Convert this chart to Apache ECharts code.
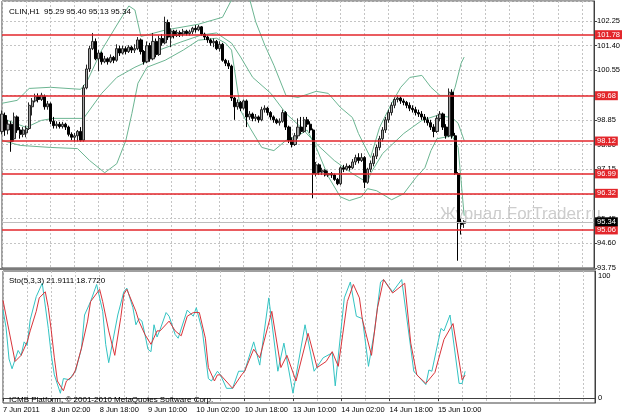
<!DOCTYPE html>
<html><head><meta charset="utf-8">
<script src="https://cdn.jsdelivr.net/npm/echarts@6/dist/echarts.min.js"></script>
<style>html,body{margin:0;padding:0;background:#fff}#c{width:623px;height:416px}</style>
</head><body><div id="c"></div>
<script>
const symbolTitle = 'CLIN,H1  95.29 95.40 95.13 95.34';
const stochTitle = 'Sto(5,3,3) 21.9111 18.7720';
const footer = 'ICMB Platform, \u00a9 2001-2010 MetaQuotes Software Corp.';
const watermark = 'Журнал ForTrader.ru';
const timeLabels = ['7 Jun 2011','8 Jun 02:00','8 Jun 18:00','9 Jun 10:00','10 Jun 02:00','10 Jun 18:00','13 Jun 10:00','14 Jun 02:00','14 Jun 18:00','15 Jun 10:00'];
const barCount = 197;
const levels = [101.78, 99.68, 98.12, 96.99, 96.32, 95.06];
const bid = 95.34;
// [open, close, low, high]
const candles = [
[98.45,99.05,98.35,99.17],[99.0,98.5,98.3,99.1],[98.5,98.7,98.35,98.85],[98.7,98.1,97.75,98.8],[98.2,98.95,98.1,99.1],
[98.95,98.5,98.4,99.0],[98.5,98.35,98.2,98.6],[98.35,98.5,98.25,98.6],[98.4,98.55,98.25,98.65],[98.55,99.35,98.5,99.45],
[99.3,99.5,99.0,99.6],[99.5,99.65,99.45,99.75],[99.65,99.55,99.45,99.76],[99.55,99.7,99.5,99.78],[99.65,99.3,99.2,99.72],
[99.3,99.4,99.2,99.5],[99.4,98.8,98.7,99.45],[98.8,98.65,98.55,98.95],[98.65,98.7,98.55,98.8],[98.7,98.62,98.55,98.78],
[98.62,98.7,98.55,98.78],[98.7,98.6,98.5,98.75],[98.6,98.35,98.28,98.65],[98.35,98.25,98.15,98.42],[98.25,98.3,98.1,98.4],
[98.3,98.45,98.1,98.5],[98.45,98.15,98.1,98.6],[98.15,99.95,98.1,100.05],[99.95,100.6,99.9,100.75],[100.6,101.3,100.5,101.4],
[101.3,101.55,101.25,101.84],[101.55,100.95,100.9,101.65],[100.95,101.15,100.52,101.25],[101.15,100.85,100.75,101.2],[100.85,100.95,100.8,101.05],
[100.95,100.85,100.75,101.0],[100.85,101.0,100.8,101.1],[101.0,100.9,100.8,101.05],[100.9,101.3,100.85,101.45],[101.3,101.15,101.05,101.4],
[101.15,101.3,101.1,101.4],[101.3,101.2,101.1,101.38],[101.2,101.35,101.15,101.42],[101.35,101.25,101.15,101.4],[101.25,101.3,101.15,101.45],
[101.3,101.6,101.25,101.7],[101.6,101.2,101.1,101.65],[101.2,100.85,100.75,101.25],[100.85,101.4,100.8,101.55],[101.4,100.95,100.85,101.5],
[100.95,101.55,100.9,101.84],[101.55,101.1,101.0,101.65],[101.1,101.65,101.05,101.75],[101.65,101.5,101.4,101.8],[101.5,102.2,101.45,102.4],
[102.2,101.7,101.6,102.3],[101.7,101.9,101.35,102.0],[101.9,101.75,101.65,101.95],[101.75,101.85,101.7,101.95],[101.85,101.8,101.7,101.92],
[101.8,101.9,101.72,101.98],[101.9,101.82,101.75,101.95],[101.82,101.88,101.75,101.95],[101.88,102.0,101.8,102.05],[102.0,101.95,101.85,102.11],
[101.95,102.05,101.9,102.12],[102.05,101.8,101.75,102.08],[101.8,101.7,101.6,101.85],[101.7,101.6,101.5,101.75],[101.6,101.5,101.4,101.65],
[101.5,101.55,101.35,101.65],[101.55,101.3,101.25,101.6],[101.3,101.45,101.2,101.55],[101.45,100.9,100.85,101.5],[100.9,100.8,100.7,100.95],
[100.8,100.7,100.6,100.9],[100.7,99.6,99.5,100.75],[99.6,99.3,98.85,99.65],[99.3,99.45,99.2,99.55],[99.45,99.25,99.15,99.5],
[99.25,99.5,99.2,99.55],[99.5,98.95,98.6,99.55],[98.95,99.05,98.85,99.15],[99.05,98.9,98.8,99.1],[98.9,98.95,98.8,99.05],
[98.95,98.85,98.75,99.0],[98.85,99.2,98.8,99.3],[99.2,99.25,99.1,99.35],[99.25,99.1,99.0,99.3],[99.1,98.95,98.85,99.15],
[98.95,98.85,98.75,99.0],[98.85,98.75,98.7,98.9],[98.75,98.8,98.65,98.9],[98.8,99.1,98.75,99.2],[99.1,98.6,98.5,99.15],
[98.6,98.15,98.05,98.65],[98.15,98.0,97.9,98.25],[98.0,98.3,97.95,98.4],[98.3,98.6,98.2,98.9],[98.6,98.45,98.35,98.95],
[98.45,98.85,98.4,98.95],[98.85,98.7,98.6,98.95],[98.7,98.5,98.4,98.8],[98.5,97.0,96.15,98.55],[97.0,97.3,96.9,97.4],
[97.3,97.05,96.95,97.35],[97.05,97.1,96.95,97.2],[97.1,96.95,96.9,97.15],[96.95,97.0,96.88,97.1],[97.0,96.95,96.85,97.05],
[96.95,96.8,96.75,97.0],[96.8,96.65,96.6,96.85],[96.65,97.2,96.6,97.25],[97.2,97.15,97.05,97.3],[97.15,97.25,97.1,97.35],
[97.25,97.2,97.1,97.3],[97.2,97.4,97.15,97.5],[97.4,97.55,97.3,97.65],[97.55,97.45,97.35,97.7],[97.45,97.55,97.4,97.7],
[97.55,96.7,96.5,97.6],[96.7,97.15,96.65,97.2],[97.15,97.35,97.05,97.45],[97.35,97.6,97.25,97.7],[97.6,97.9,97.5,98.0],
[97.9,98.2,97.8,98.3],[98.2,98.5,98.1,98.6],[98.5,98.85,98.4,98.95],[98.85,99.1,98.75,99.2],[99.1,99.35,99.0,99.45],
[99.35,99.55,99.25,99.62],[99.55,99.6,99.45,99.69],[99.6,99.5,99.4,99.65],[99.5,99.45,99.35,99.58],[99.45,99.35,99.25,99.5],
[99.35,99.25,99.15,99.45],[99.25,99.2,99.1,99.35],[99.2,99.1,99.0,99.3],[99.1,99.05,98.95,99.2],[99.05,98.95,98.85,99.15],
[98.95,98.85,98.75,99.05],[98.85,98.75,98.65,98.95],[98.75,98.6,98.5,98.85],[98.6,98.45,98.25,98.7],[98.45,98.9,98.4,99.0],
[98.9,99.05,98.8,99.15],[99.05,98.6,98.5,99.1],[98.6,98.3,98.2,98.7],[98.3,99.8,98.25,99.93],[99.8,98.3,98.2,99.9],
[98.3,97.0,96.95,98.4],[97.0,95.3,94.0,97.05],[95.3,95.25,94.9,95.45],[95.29,95.34,95.13,95.40]
];
// Bollinger lines: [bar, price]
const bbUpper = [[0,99.42],[5,99.52],[9,99.93],[16,99.97],[26,99.90],[28,100.14],[33,101.25],[39,102.28],[42,102.77],[44,102.63],[46,101.72],[48,101.77],[54,101.94],[65,102.14],[73,102.38],[76,102.98],[80,103.3],[82,103.0],[84,102.22],[87,101.42],[90,100.73],[94,99.69],[98,99.62],[104,99.83],[108,99.76],[112,99.28],[116,98.93],[118,98.38],[122,97.55],[125,98.59],[129,99.42],[132,99.97],[135,100.31],[139,100.38],[142,99.97],[145,99.69],[149,99.69],[150,99.97],[152,100.80],[153,101.01]];
const bbMiddle = [[0,98.90],[8,98.59],[13,98.83],[17,98.90],[27,98.90],[33,99.76],[38,100.31],[44,100.66],[47,100.80],[52,101.25],[59,101.52],[66,101.77],[71,101.84],[76,101.49],[79,101.01],[83,100.31],[89,99.76],[94,99.07],[99,98.59],[104,98.03],[110,97.45],[116,97.0],[121,96.69],[122,97.0],[126,97.69],[133,98.38],[139,98.83],[144,99.0],[149,98.93],[151,98.73],[153,98.14]];
const bbLower = [[0,98.14],[6,97.97],[16,97.90],[25,97.86],[29,97.45],[34,97.03],[38,97.34],[41,98.14],[43,99.07],[45,100.11],[48,100.66],[54,100.90],[60,101.25],[65,101.59],[71,101.66],[74,101.49],[76,101.25],[79,99.17],[82,98.59],[86,97.90],[90,97.79],[94,98.14],[98,98.3],[101,98.5],[104,97.9],[108,96.9],[112,96.2],[115,96.07],[119,96.2],[121,96.48],[124,96.41],[129,96.10],[133,96.31],[137,96.86],[140,97.20],[142,97.79],[144,98.2],[149,98.3],[151,97.9],[153,95.55]];
// Stochastic %K and %D: [bar, value]
const stochK = [[0,72],[1,58],[2,32],[3,24],[5,39],[6,35],[7,46],[8,43],[9,64],[11,83],[13,94],[15,57],[16,35],[17,19],[19,4],[20,16],[22,15],[23,19],[24,22],[26,41],[27,68],[29,79],[31,93],[33,71],[34,44],[35,29],[38,68],[40,87],[41,90],[43,74],[44,60],[45,65],[46,63],[47,52],[48,40],[49,38],[50,60],[51,50],[52,56],[54,70],[55,67],[57,52],[58,49],[61,72],[63,67],[64,74],[66,55],[68,16],[69,14],[71,22],[72,19],[74,8],[76,8],[78,22],[80,22],[83,46],[85,27],[88,82],[91,22],[93,45],[96,4],[100,60],[103,22],[106,33],[109,37],[110,10],[113,82],[115,95],[117,67],[119,65],[121,26],[123,55],[125,95],[126,97],[129,87],[132,97],[135,41],[136,22],[140,11],[141,23],[142,22],[145,57],[146,55],[148,68],[151,12],[152,12],[153,21.91]];
const stochD = [[0,80],[4,30],[6,35],[8,46],[9,55],[11,71],[12,82],[14,87],[15,74],[16,55],[17,33],[18,14],[20,6],[21,14],[23,18],[24,23],[26,41],[28,63],[29,79],[32,89],[33,79],[35,55],[37,35],[39,66],[40,85],[41,89],[44,71],[45,63],[47,52],[49,44],[51,55],[52,55],[55,63],[57,55],[59,51],[61,67],[63,70],[65,70],[67,49],[68,25],[70,14],[71,19],[72,19],[76,8],[79,19],[80,22],[83,40],[85,33],[89,71],[92,25],[94,35],[97,14],[101,53],[104,25],[107,30],[109,38],[111,26],[114,79],[116,93],[118,82],[119,64],[122,35],[124,74],[126,97],[129,86],[133,94],[135,45],[137,19],[140,12],[143,21],[146,48],[149,61],[152,15],[153,18.77]];

const FONT = 'Liberation Sans';
const FS = 7.5;
const TFS = 8;
const cats = Array.from({length: barCount}, (_, i) => String(i));
const LABEL_STEP = 16, GRID_STEP = 8;
const lastLabeled = (timeLabels.length - 1) * LABEL_STEP;
const isLabelIdx = (i) => i % LABEL_STEP === 0 && i <= lastLabeled;
const gridLine = {show: true, interval: (i) => i % GRID_STEP === 0, lineStyle: {color: '#c4c4c4', type: [2, 2], width: 1}};
const axisCol = '#404040';
const RED = '#e3262b';
const BAND = '#6cb592';

const chart = echarts.init(document.getElementById('c'), null, {renderer: 'canvas'});
const lineSeries = (data, color, xi, yi, name, z) => ({
  name, type: 'line', xAxisIndex: xi, yAxisIndex: yi, data, showSymbol: false, symbol: 'none',
  lineStyle: {color, width: 1}, itemStyle: {color}, silent: true, z: z || 3
});
const priceLabel = (bg) => ({show: true, position: 'end', distance: 1, formatter: p => Number(p.value).toFixed(2),
  color: '#fff', backgroundColor: bg, padding: [1, 2, 0, 2], fontSize: FS, fontFamily: FONT});

const levelSeries = {
  name: 'levels', type: 'line', xAxisIndex: 0, yAxisIndex: 0, data: [], showSymbol: false, silent: true, z: 5,
  lineStyle: {color: RED, width: 1.6},
  markLine: {silent: true, symbol: ['none', 'none'], animation: false, precision: 2,
    data: levels.map(v => ({yAxis: v, lineStyle: {color: RED, width: 1.6, type: 'solid', opacity: 1}, label: priceLabel(RED)}))
      .concat([{yAxis: bid, lineStyle: {color: '#bdbdbd', width: 1, type: 'solid', opacity: 1}, label: priceLabel('#000000')}])}
};

chart.setOption({
  animation: false,
  backgroundColor: '#ffffff',
  textStyle: {fontFamily: FONT},
  title: [
    {text: symbolTitle, left: 4, top: 3, textStyle: {fontSize: TFS, fontWeight: 'normal', color: '#000', fontFamily: FONT}},
    {text: stochTitle, left: 4, top: 272, textStyle: {fontSize: TFS, fontWeight: 'normal', color: '#000', fontFamily: FONT}},
    {text: footer, left: 4, top: 391, textStyle: {fontSize: TFS, fontWeight: 'normal', color: '#000', fontFamily: FONT}}
  ],
  graphic: {elements: [
    {type: 'text', left: 440, top: 206, z: 0, silent: true, style: {text: watermark, fill: '#cdcdcd', font: '17px "Liberation Sans"'}},
    {type: 'rect', left: 0, top: 268, z: 10, silent: true, shape: {width: 596, height: 2}, style: {fill: '#7a7a7a'}}
  ]},
  grid: [
    {left: 2, right: 28, top: 1, height: 267, show: true, borderColor: axisCol, borderWidth: 1, backgroundColor: 'transparent'},
    {left: 2, right: 28, top: 271, height: 132, show: true, borderColor: axisCol, borderWidth: 1, backgroundColor: 'transparent'}
  ],
  xAxis: [
    {type: 'category', gridIndex: 0, data: cats, boundaryGap: false,
     axisLine: {show: false}, axisTick: {show: false}, axisLabel: {show: false}, splitLine: gridLine},
    {type: 'category', gridIndex: 1, data: cats, boundaryGap: false,
     axisLine: {show: true, lineStyle: {color: axisCol}},
     axisTick: {show: true, interval: (i) => isLabelIdx(i), length: 3, lineStyle: {color: axisCol}},
     axisLabel: {show: true, interval: (i) => isLabelIdx(i), formatter: (v, i) => timeLabels[Math.round(Number(v) / LABEL_STEP)] || '',
       align: 'left', margin: 3, fontSize: FS, color: '#000', fontFamily: FONT},
     splitLine: gridLine}
  ],
  yAxis: [
    {type: 'value', gridIndex: 0, position: 'right', min: 93.75, max: 102.94, interval: 0.85, scale: true,
     axisLine: {show: true, lineStyle: {color: axisCol}},
     axisTick: {show: true, length: 3, lineStyle: {color: axisCol}},
     axisLabel: {showMaxLabel: false, formatter: v => v.toFixed(2), margin: 3, fontSize: FS, color: '#000', fontFamily: FONT},
     splitLine: {show: true, lineStyle: {color: '#c4c4c4', type: [2, 2], width: 1}}},
    {type: 'value', gridIndex: 1, position: 'right', min: -4, max: 104, interval: 4,
     axisLine: {show: true, lineStyle: {color: axisCol}},
     axisTick: {show: false},
     axisLabel: {formatter: v => (Math.abs(v) < 1e-6 ? '0' : (Math.abs(v - 100) < 1e-6 ? '100' : '')), showMaxLabel: false, showMinLabel: false,
       margin: 3, fontSize: FS, color: '#000', fontFamily: FONT},
     splitLine: {show: false}}
  ],
  series: [
    {type: 'candlestick', name: 'CLIN', xAxisIndex: 0, yAxisIndex: 0, data: candles, barWidth: 2.6, z: 4,
     itemStyle: {color: '#a4a4a4', color0: '#000000', borderColor: '#262626', borderColor0: '#000000', borderWidth: 1}},
    levelSeries,
    lineSeries(bbUpper, BAND, 0, 0, 'BB upper'),
    lineSeries(bbMiddle, BAND, 0, 0, 'BB middle'),
    lineSeries(bbLower, BAND, 0, 0, 'BB lower'),
    lineSeries(stochK, '#33c3c3', 1, 1, '%K'),
    lineSeries(stochD, '#d9343a', 1, 1, '%D', 4)
  ]
});
</script></body></html>
